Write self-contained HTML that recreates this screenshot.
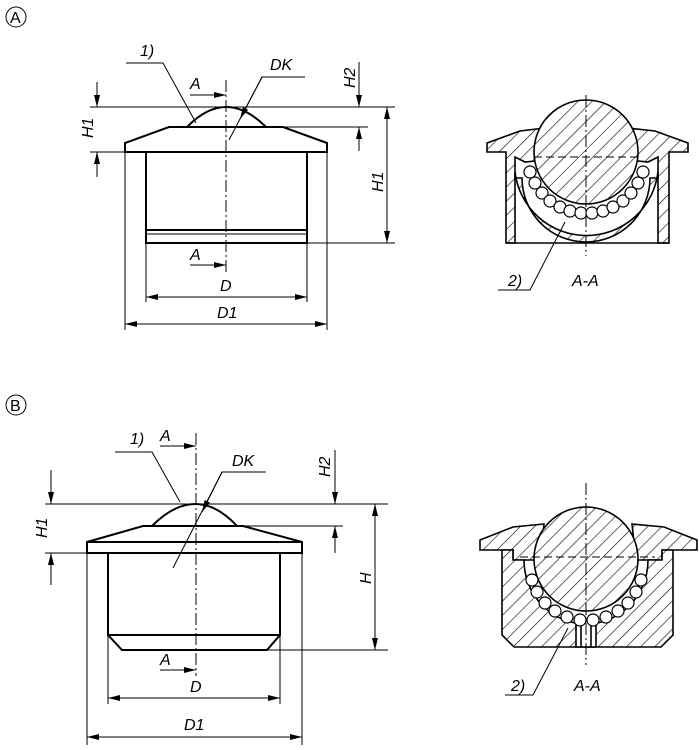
<!DOCTYPE html>
<html><head><meta charset="utf-8"><style>
html,body{margin:0;padding:0;background:#fff;width:699px;height:750px;overflow:hidden}
svg{display:block}
text{font-family:"Liberation Sans",sans-serif;font-style:italic;font-size:16px;fill:#000}
</style></head><body>
<svg width="699" height="750" viewBox="0 0 699 750" xmlns="http://www.w3.org/2000/svg">
<defs>
<pattern id="h" patternUnits="userSpaceOnUse" width="10" height="10" patternTransform="rotate(45)">
<rect width="10" height="10" fill="#fff"/><line x1="0" y1="0" x2="0" y2="10" stroke="#000" stroke-width="1.2"/></pattern>
<marker id="ar" markerWidth="12" markerHeight="6" refX="12" refY="3" orient="auto-start-reverse" markerUnits="userSpaceOnUse">
<path d="M0,0 L12,3 L0,6 Z" fill="#000"/></marker>
</defs>

<circle cx="16" cy="17" r="10" fill="none" stroke="#000"/><text x="10" y="23" style="font-style:normal">A</text>
<circle cx="16" cy="405" r="10" fill="none" stroke="#000"/><text x="10" y="411" style="font-style:normal">B</text>

<!-- ===== A front view ===== -->
<g stroke="#000" fill="none">
<path d="M125,152 L125,143 L169,127 L283,127 L327,143 L327,152 Z" stroke-width="2"/>
<path d="M187,127 Q226,87 266,127" stroke-width="2"/>
<path d="M146,152 L146,243 L307,243 L307,152" stroke-width="2"/>
<line x1="146" y1="230" x2="307" y2="230" stroke-width="2"/>
<line x1="146" y1="234" x2="307" y2="234" stroke-width="1"/>
<line x1="226" y1="80" x2="226" y2="272" stroke-width="1" stroke-dasharray="12,3,2,3"/>
<line x1="90" y1="107" x2="395" y2="107"/>
<line x1="283" y1="127" x2="368" y2="127"/>
<line x1="90" y1="152" x2="125" y2="152"/>
<line x1="307" y1="243" x2="395" y2="243"/>
<line x1="97" y1="82" x2="97" y2="107" marker-end="url(#ar)"/>
<line x1="97" y1="177" x2="97" y2="152" marker-end="url(#ar)"/>
<line x1="359" y1="62" x2="359" y2="107" marker-end="url(#ar)"/>
<line x1="359" y1="151" x2="359" y2="127" marker-end="url(#ar)"/>
<line x1="387" y1="107" x2="387" y2="243" marker-start="url(#ar)" marker-end="url(#ar)"/>
<line x1="146" y1="243" x2="146" y2="302"/><line x1="307" y1="243" x2="307" y2="302"/>
<line x1="146" y1="297" x2="307" y2="297" marker-start="url(#ar)" marker-end="url(#ar)"/>
<line x1="125" y1="152" x2="125" y2="330"/><line x1="327" y1="152" x2="327" y2="330"/>
<line x1="125" y1="324" x2="327" y2="324" marker-start="url(#ar)" marker-end="url(#ar)"/>
<polyline points="126,63 163,63 196,123"/>
<polyline points="305,77 262,77 229,140"/>
<line x1="262" y1="77" x2="240" y2="119" marker-end="url(#ar)"/>
<line x1="190" y1="95" x2="226" y2="95" marker-end="url(#ar)"/>
<line x1="190" y1="265" x2="226" y2="265" marker-end="url(#ar)"/>
</g>
<text x="140" y="56">1)</text>
<text x="190" y="89">A</text>
<text x="270" y="70">DK</text>
<text x="190" y="260">A</text>
<text x="220" y="291">D</text>
<text x="217" y="318">D1</text>
<text transform="translate(93,138) rotate(-90)">H1</text>
<text transform="translate(355,88) rotate(-90)">H2</text>
<text transform="translate(383,192) rotate(-90)">H1</text>

<!-- ===== A section ===== -->
<g stroke="#000" stroke-width="1.6">
<path d="M487,143 L520,131 L545,128 L545,160 L525,162 L515,157 L515,243 L506,243 L506,152 L487,152 Z" fill="url(#h)"/>
<path d="M688,143 L655,131 L628,128 L628,160 L648,162 L658,157 L658,243 L669,243 L669,152 L688,152 Z" fill="url(#h)"/>
<path d="M515,172 A72,72 0 0 0 658,172 L658,178 L650,178 A64,64 0 0 1 522,178 L515,178 Z" fill="url(#h)"/>
<circle cx="586" cy="152" r="52" fill="url(#h)"/>
<line x1="506" y1="243" x2="669" y2="243"/>
</g>
<g stroke="#000" stroke-width="1.2" fill="#fff">
<circle cx="530" cy="172" r="6"/><circle cx="535" cy="183" r="6"/><circle cx="542" cy="193" r="6"/>
<circle cx="550" cy="201" r="6"/><circle cx="560" cy="207" r="6"/><circle cx="570" cy="211" r="6"/>
<circle cx="581" cy="213" r="6"/><circle cx="592" cy="213" r="6"/><circle cx="603" cy="211" r="6"/>
<circle cx="613" cy="207" r="6"/><circle cx="623" cy="201" r="6"/><circle cx="631" cy="193" r="6"/>
<circle cx="638" cy="183" r="6"/><circle cx="643" cy="172" r="6"/>
</g>
<g stroke="#000" fill="none">
<line x1="534" y1="157" x2="640" y2="157" stroke-dasharray="8,4"/>
<line x1="586" y1="95" x2="586" y2="256" stroke-dasharray="12,3,2,3"/>
<polyline points="498,290 530,290 565,222"/>
</g>
<text x="508" y="286">2)</text>
<text x="572" y="286">A-A</text>

<!-- ===== B front view ===== -->
<g stroke="#000" fill="none">
<path d="M87,542 L143,526 L243,526 L302,542 Z" stroke-width="2"/>
<rect x="87" y="542" width="215" height="11" stroke-width="2"/>
<path d="M152,526 Q196,482 237,526" stroke-width="2"/>
<path d="M108,553 L108,635 L280,635 L280,553" stroke-width="2"/>
<path d="M108,635 L122,650 L267,650 L280,635" stroke-width="2"/>
<line x1="196" y1="433" x2="196" y2="676" stroke-dasharray="12,3,2,3"/>
<line x1="45" y1="504" x2="388" y2="504"/>
<line x1="243" y1="526" x2="343" y2="526"/>
<line x1="45" y1="553" x2="87" y2="553"/>
<line x1="267" y1="650" x2="388" y2="650"/>
<line x1="51" y1="470" x2="51" y2="504" marker-end="url(#ar)"/>
<line x1="51" y1="585" x2="51" y2="553" marker-end="url(#ar)"/>
<line x1="335" y1="450" x2="335" y2="504" marker-end="url(#ar)"/>
<line x1="335" y1="553" x2="335" y2="526" marker-end="url(#ar)"/>
<line x1="375" y1="504" x2="375" y2="650" marker-start="url(#ar)" marker-end="url(#ar)"/>
<line x1="108" y1="635" x2="108" y2="704"/><line x1="280" y1="635" x2="280" y2="704"/>
<line x1="108" y1="698" x2="280" y2="698" marker-start="url(#ar)" marker-end="url(#ar)"/>
<line x1="87" y1="553" x2="87" y2="745"/><line x1="302" y1="553" x2="302" y2="745"/>
<line x1="87" y1="737" x2="302" y2="737" marker-start="url(#ar)" marker-end="url(#ar)"/>
<polyline points="115,452 152,452 180,502"/>
<polyline points="266,472 222,472 173,568"/>
<line x1="222" y1="472" x2="202" y2="512" marker-end="url(#ar)"/>
<line x1="160" y1="446" x2="196" y2="446" marker-end="url(#ar)"/>
<line x1="160" y1="670" x2="196" y2="670" marker-end="url(#ar)"/>
</g>
<text x="130" y="444">1)</text>
<text x="160" y="441">A</text>
<text x="232" y="466">DK</text>
<text x="160" y="665">A</text>
<text x="190" y="692">D</text>
<text x="184" y="730">D1</text>
<text transform="translate(47,538) rotate(-90)">H1</text>
<text transform="translate(330,477) rotate(-90)">H2</text>
<text transform="translate(371,584) rotate(-90)">H</text>

<!-- ===== B section ===== -->
<g stroke="#000" stroke-width="1.6">
<path d="M480,540 L513,527 L544,524 L540,560 L513,560 L513,550 L480,550 Z" fill="url(#h)"/>
<path d="M697,540 L664,527 L632,524 L636,560 L662,560 L662,550 L697,550 Z" fill="url(#h)"/>
<path fill-rule="evenodd" fill="url(#h)" d="M502,550 L513,550 L513,560 L524,560 A62,64 0 0 0 648,560 L662,560 L662,550 L673,550 L673,635 L661,647 L514,647 L502,635 Z"/>
<circle cx="586" cy="559" r="52" fill="url(#h)"/>
<rect x="576" y="621" width="20" height="26" fill="#fff"/>
<line x1="581" y1="621" x2="581" y2="647"/><line x1="591" y1="621" x2="591" y2="647"/>
</g>
<g stroke="#000" stroke-width="1.2" fill="#fff">
<circle cx="532" cy="580" r="6"/><circle cx="537" cy="592" r="6"/><circle cx="545" cy="603" r="6"/>
<circle cx="555" cy="611" r="6"/><circle cx="567" cy="617" r="6"/><circle cx="580" cy="620" r="6"/>
<circle cx="593" cy="620" r="6"/><circle cx="606" cy="617" r="6"/><circle cx="618" cy="611" r="6"/>
<circle cx="628" cy="603" r="6"/><circle cx="636" cy="592" r="6"/><circle cx="641" cy="580" r="6"/>
</g>
<g stroke="#000" fill="none">
<line x1="520" y1="557" x2="655" y2="557" stroke-dasharray="8,4"/>
<line x1="586" y1="483" x2="586" y2="665" stroke-dasharray="12,3,2,3"/>
<polyline points="505,695 533,695 568,628"/>
</g>
<text x="511" y="691">2)</text>
<text x="574" y="691">A-A</text>
</svg>
</body></html>
